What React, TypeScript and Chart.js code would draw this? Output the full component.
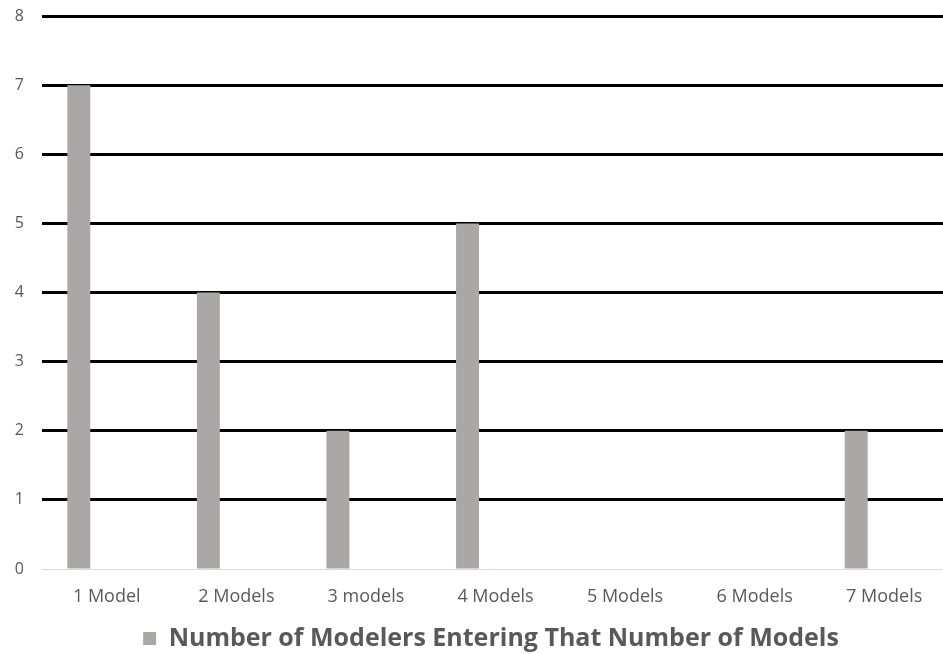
import React, { useEffect, useRef } from "react";
import { Chart, registerables } from "chart.js";

Chart.register(...registerables);

const categories = ["1 Model", "2 Models", "3 models", "4 Models", "5 Models", "6 Models", "7 Models"];
const modelerCounts = [7, 4, 2, 5, 0, 0, 2];
const emptySeries = [null, null, null, null, null, null, null];
const seriesLabel = "Number of Modelers Entering That Number of Models";
const yTicks = [0, 1, 2, 3, 4, 5, 6, 7, 8];

export default function App() {
  const canvasRef = useRef<HTMLCanvasElement | null>(null);

  useEffect(() => {
    const canvas = canvasRef.current;
    if (!canvas) return;
    const chart = new Chart(canvas, {
      type: "bar",
      data: {
        labels: categories,
        datasets: [
          {
            label: seriesLabel,
            data: modelerCounts,
            backgroundColor: "#ABA7A7",
            borderWidth: 0,
            categoryPercentage: 0.864,
            barPercentage: 0.41,
          },
          {
            label: "",
            data: emptySeries as any,
            backgroundColor: "rgba(0,0,0,0)",
            categoryPercentage: 0.864,
            barPercentage: 0.41,
          },
        ],
      },
      options: {
        animation: false,
        responsive: false,
        maintainAspectRatio: false,
        layout: { padding: { top: 16, left: 0, right: 0, bottom: -7 } },
        plugins: {
          tooltip: { enabled: false },
          title: { display: false },
          legend: {
            position: "bottom",
            labels: {
              filter: (item) => item.datasetIndex === 0,
              boxWidth: 13,
              boxHeight: 13,
              color: "#595959",
              padding: 1,
              font: { family: "'Open Sans'", size: 25, weight: "bold" },
            },
          },
        },
        scales: {
          x: {
            grid: { display: false, drawTicks: false },
            border: { display: false },
            ticks: {
              color: "#595959",
              font: { family: "'Open Sans'", size: 18 },
              maxRotation: 0,
              autoSkip: false,
              padding: 17,
            },
            afterFit: (axis: any) => {
              axis.height = 56;
              axis.paddingLeft = 0;
              axis.paddingRight = 0;
            },
          },
          y: {
            min: 0,
            max: 8,
            afterBuildTicks: (axis) => {
              axis.ticks = yTicks.map((v) => ({ value: v }));
            },
            border: { display: false },
            grid: {
              drawTicks: false,
              color: (ctx) => (ctx.tick && ctx.tick.value === 0 ? "#D9D9D9" : "#000000"),
              lineWidth: (ctx) => (ctx.tick && ctx.tick.value === 0 ? 1 : 3),
            },
            ticks: {
              color: "#595959",
              font: { family: "'Open Sans'", size: 16 },
              padding: 18,
            },
            afterFit: (axis: any) => {
              axis.width = 42;
              axis.paddingTop = 0;
              axis.paddingBottom = 0;
            },
          },
          yRight: {
            position: "right",
            display: true,
            grid: { display: false, drawTicks: false },
            border: { display: false },
            ticks: { display: false },
            afterFit: (axis: any) => {
              axis.width = 33;
              axis.paddingTop = 0;
              axis.paddingBottom = 0;
            },
          },
        },
      },
    });
    return () => chart.destroy();
  }, []);

  return (
    <div style={{ position: "fixed", left: 0, top: 0, width: 943, height: 654, overflow: "hidden", background: "#fff" }}>
      <canvas ref={canvasRef} width={982} height={654} style={{ display: "block", width: 982, height: 654 }} />
    </div>
  );
}
